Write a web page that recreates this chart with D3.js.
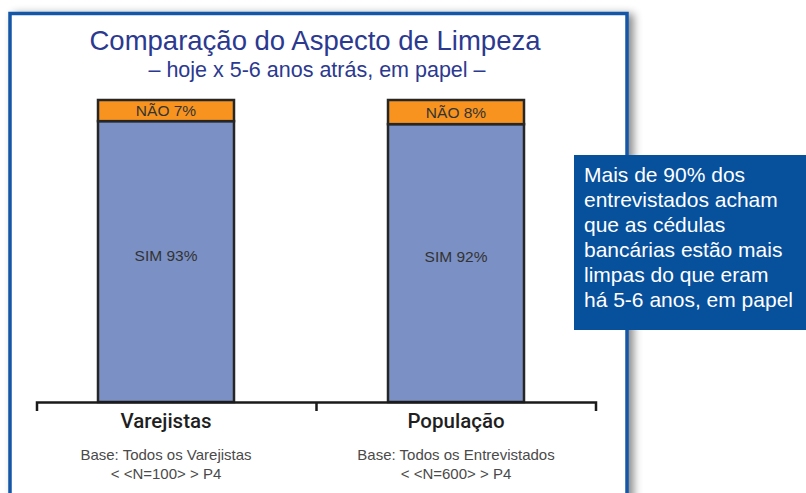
<!DOCTYPE html>
<html><head><meta charset="utf-8">
<script src="https://cdn.jsdelivr.net/npm/d3@7"></script>
<style>html,body{margin:0;padding:0;background:#fff;} svg{display:block;}</style>
</head><body>
<script>
const categories = ["Varejistas", "População"];
const simValues = [93, 92];
const naoValues = [7, 8];
const baseLines = [["Base: Todos os Varejistas", "< <N=100> > P4"], ["Base: Todos os Entrevistados", "< <N=600> > P4"]];
const titleText = "Comparação do Aspecto de Limpeza";
const subtitleText = "– hoje x 5-6 anos atrás, em papel –";
const calloutLines = ["Mais de 90% dos", "entrevistados acham", "que as cédulas", "bancárias estão mais", "limpas do que eram", "há 5-6 anos, em papel"];

const W = 806, H = 493;
const svg = d3.select("body").append("svg").attr("width", W).attr("height", H);
const defs = svg.append("defs");
const f = defs.append("filter").attr("id", "sh").attr("x", "-10%").attr("y", "-10%").attr("width", "130%").attr("height", "130%");
f.append("feDropShadow").attr("dx", 5).attr("dy", 2).attr("stdDeviation", 4).attr("flood-color", "#000").attr("flood-opacity", 0.45);

// frame
svg.append("rect").attr("x", 10).attr("y", 13.5).attr("width", 617).attr("height", 520)
  .attr("fill", "#fff").attr("stroke", "#1656a6").attr("stroke-width", 3.5).attr("filter", "url(#sh)");

const font = "'Liberation Sans', Arial, Helvetica, sans-serif";
svg.append("text").attr("x", 315).attr("y", 50).attr("text-anchor", "middle")
  .attr("font-family", font).attr("font-size", 27.5).attr("fill", "#2b3990").text(titleText);
svg.append("text").attr("x", 317).attr("y", 77).attr("text-anchor", "middle")
  .attr("font-family", font).attr("font-size", 21.5).attr("fill", "#2b3990").text(subtitleText);

const x = d3.scaleBand().domain(categories).range([21, 601]).padding(0);
const y = d3.scaleLinear().domain([0, 100]).range([402, 100]);
const bw = 136;
const g = svg.append("g");
categories.forEach((c, i) => {
  const cx = x(c) + x.bandwidth() / 2;
  const sim = simValues[i], nao = naoValues[i];
  g.append("rect").attr("x", cx - bw / 2).attr("y", y(sim)).attr("width", bw).attr("height", y(0) - y(sim))
    .attr("fill", "#7b90c4").attr("stroke", "#262626").attr("stroke-width", 2.5);
  g.append("rect").attr("x", cx - bw / 2).attr("y", y(sim + nao)).attr("width", bw).attr("height", y(sim) - y(sim + nao))
    .attr("fill", "#f7931e").attr("stroke", "#262626").attr("stroke-width", 2.5);
  g.append("text").attr("x", cx).attr("y", (y(sim) + y(sim + nao)) / 2 + 5.5).attr("text-anchor", "middle")
    .attr("font-family", font).attr("font-size", 15.5).attr("fill", "#333").text("NÃO " + nao + "%");
  g.append("text").attr("x", cx).attr("y", (y(0) + y(sim)) / 2 - 1).attr("text-anchor", "middle")
    .attr("font-family", font).attr("font-size", 15.5).attr("fill", "#333").text("SIM " + sim + "%");
  g.append("text").attr("x", cx).attr("y", 428).attr("text-anchor", "middle")
    .attr("font-family", "Roboto, " + font).attr("font-weight", 500).attr("font-size", 20.5).attr("fill", "#1f1f1f").text(c);
  baseLines[i].forEach((t, j) => {
    g.append("text").attr("x", cx).attr("y", 460 + j * 18.5).attr("text-anchor", "middle")
      .attr("font-family", font).attr("font-size", 15).attr("fill", "#4a4a4a").text(t);
  });
});

// axis bracket
const ax = d3.scaleLinear().domain([0, 2]).range([37, 596]);
const axisG = svg.append("g").attr("stroke", "#1a1a1a").attr("stroke-width", 2.5).attr("fill", "none");
axisG.append("path").attr("d", `M${ax(0)},411V402.5H${ax(2)}V411`);
axisG.append("line").attr("x1", ax(1)).attr("x2", ax(1)).attr("y1", 402.5).attr("y2", 411);

// callout
svg.append("rect").attr("x", 574).attr("y", 155).attr("width", 232).attr("height", 175).attr("fill", "#07509c");
calloutLines.forEach((t, i) => {
  svg.append("text").attr("x", 584).attr("y", 182 + i * 25)
    .attr("font-family", font).attr("font-size", 21).attr("fill", "#fff").text(t);
});
</script>
</body></html>
